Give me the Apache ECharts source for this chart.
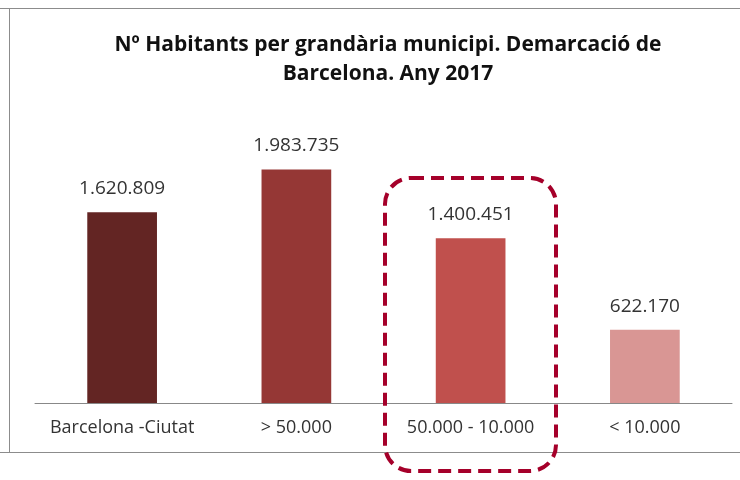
<!DOCTYPE html>
<html>
<head>
<meta charset="utf-8">
<script src="https://cdn.jsdelivr.net/npm/echarts@6/dist/echarts.min.js"></script>
<style>
  html, body { margin: 0; padding: 0; background: #fff; }
  #chart { width: 740px; height: 480px; }
</style>
</head>
<body>
<div id="chart"></div>
<script>
const categories = ['Barcelona -Ciutat', '> 50.000', '50.000 - 10.000', '< 10.000'];
const habitants = [1620809, 1983735, 1400451, 622170];
const barColors = ['#632523', '#953735', '#C0504D', '#D99694'];

// format amb punts de milers
function fmt(v) {
  return String(v).replace(/\B(?=(\d{3})+(?!\d))/g, '.');
}

const chart = echarts.init(document.getElementById('chart'));

const option = {
  backgroundColor: '#fff',
  animation: false,
  title: {
    text: 'Nº Habitants per grandària municipi. Demarcació de\nBarcelona. Any 2017',
    left: 383,
    top: 26,
    textAlign: 'center',
    textStyle: {
      fontFamily: 'Open Sans, sans-serif',
      fontSize: 21,
      fontWeight: 'bold',
      color: '#111',
      lineHeight: 29
    }
  },
  grid: { left: 35, right: 8, top: 50, bottom: 77 },
  xAxis: {
    type: 'category',
    data: categories,
    axisLine: { lineStyle: { color: '#888', width: 1 } },
    axisTick: { show: false },
    axisLabel: {
      margin: 16,
      fontFamily: 'Open Sans, sans-serif',
      fontSize: 18,
      color: '#333',
      interval: 0
    }
  },
  yAxis: {
    type: 'value',
    min: 0,
    max: 3000000,
    show: false,
    splitLine: { show: false }
  },
  series: [{
    type: 'bar',
    barWidth: '40%',
    data: habitants.map((v, i) => ({ value: v, itemStyle: { color: barColors[i] } })),
    label: {
      show: true,
      position: 'top',
      distance: 14,
      formatter: p => fmt(p.value),
      fontFamily: 'Open Sans, sans-serif',
      fontSize: 19,
      color: '#333'
    }
  }],
  graphic: [
    // marc del gràfic
    { type: 'line', shape: { x1: 0, y1: 8.5, x2: 740, y2: 8.5 }, style: { stroke: '#8c8c8c', lineWidth: 1 } },
    { type: 'line', shape: { x1: 9.5, y1: 8, x2: 9.5, y2: 452 }, style: { stroke: '#8c8c8c', lineWidth: 1 } },
    { type: 'line', shape: { x1: 0, y1: 452.5, x2: 740, y2: 452.5 }, style: { stroke: '#8c8c8c', lineWidth: 1 } },
    // requadre discontinu
    {
      type: 'rect',
      shape: { x: 385, y: 178, width: 171, height: 293, r: 26 },
      style: { fill: 'none', stroke: '#A5002A', lineWidth: 4, lineDash: [13, 7] },
      z: 10
    }
  ]
};

chart.setOption(option);
</script>
</body>
</html>
